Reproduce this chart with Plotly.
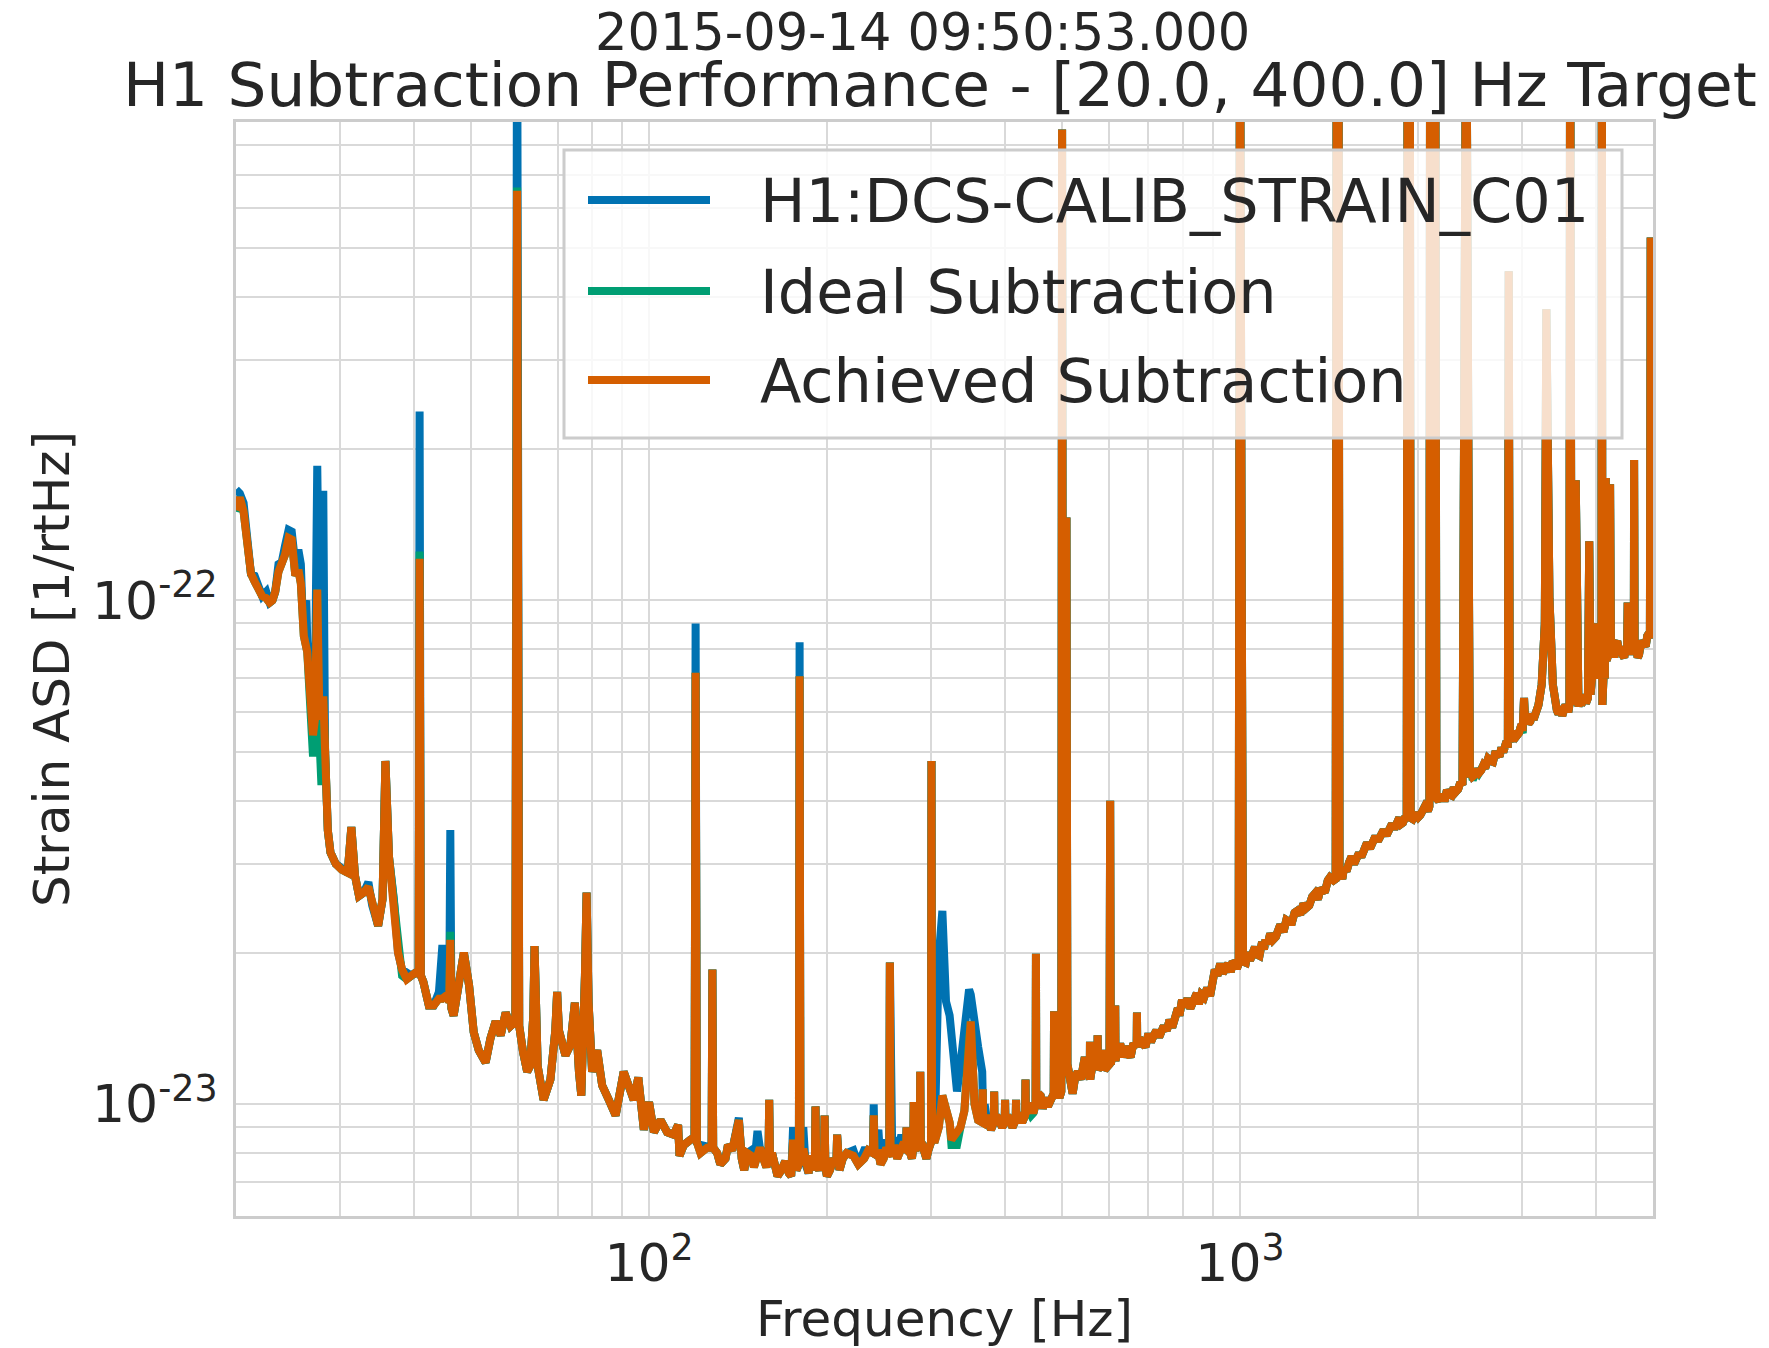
import math
import plotly.graph_objects as go

# ---------------- data (ASD values in units of 1e-23 1/rtHz) ----------------
FREQ_HZ = [
    20.0, 20.3, 20.6, 20.9, 21.2, 21.5, 21.8, 22.15, 22.5, 22.8, 23.05, 23.3, 23.6, 23.9, 24.2,
    24.55, 24.85, 25.2, 25.5, 25.75, 25.9, 26.05, 26.4, 26.8, 27.0, 27.2, 27.45, 27.65, 27.9, 28.1,
    28.3, 28.6, 28.9, 29.5, 30.2, 30.9, 31.35, 31.8, 32.3, 32.9, 33.5, 34.0, 34.8, 35.4, 35.8,
    36.3, 37.0, 37.6, 38.2, 38.9, 39.6, 40.4, 40.75, 40.9, 41.1, 41.5, 42.4, 43.2, 44.1, 44.7,
    45.3, 45.9, 46.1, 46.3, 46.7, 47.5, 48.6, 49.6, 50.5, 51.5, 52.9, 53.9, 55.0, 56.1, 57.2,
    58.3, 59.4, 59.8, 60.3, 61.2, 62.2, 62.9, 63.7, 64.0, 64.4, 64.8, 66.3, 68.1, 69.4, 69.9,
    70.4, 70.8, 72.2, 73.6, 74.9, 76.1, 76.8, 77.9, 78.4, 79.0, 80.1, 81.7, 83.3, 85.5, 87.8,
    90.6, 92.4, 94.2, 95.9, 98.0, 100.0, 101.9, 104.6, 107.3, 110.1, 112.0, 112.6, 114.5, 117.5, 119.4,
    119.9, 120.5, 122.2, 125.4, 127.6, 128.0, 128.4, 130.4, 134.7, 138.3, 141.9, 144.9, 148.9, 152.6, 156.1,
    159.3, 159.7, 160.2, 163.2, 167.5, 172.4, 175.3, 177.6, 179.3, 179.8, 180.4, 182.4, 186.2, 190.8, 191.3,
    191.9, 194.0, 197.7, 198.2, 198.8, 202.4, 207.5, 208.1, 208.8, 212.7, 221.7, 231.2, 239.3, 240.0, 240.8,
    244.4, 249.5, 255.0, 255.6, 256.3, 260.1, 267.3, 272.3, 272.8, 273.4, 276.7, 280.0, 280.5, 281.1, 284.5,
    287.2, 287.7, 288.3, 292.6, 296.9, 300.0, 300.6, 301.3, 305.0, 309.3, 313.6, 318.1, 322.6, 324.9, 332.0,
    336.5, 341.7, 348.0, 350.3, 355.5, 360.5, 366.3, 367.0, 367.8, 369.8, 376.0, 383.2, 383.7, 384.3, 392.2,
    399.8, 400.4, 401.0, 408.1, 417.3, 417.9, 418.5, 424.1, 433.0, 433.6, 434.2, 443.4, 451.0, 451.6, 452.2,
    459.9, 473.1, 484.0, 484.6, 485.2, 492.6, 498.5, 500.0, 502.0, 505.5, 508.6, 510.5, 517.4, 531.6, 546.3,
    557.0, 557.4, 557.9, 574.0, 574.3, 574.8, 590.2, 601.5, 603.0, 604.5, 614.3, 615.0, 615.7, 627.0, 646.6,
    668.7, 669.4, 670.1, 684.4, 714.7, 743.0, 776.3, 797.8, 833.5, 869.5, 906.8, 945.0, 981.0, 995.0, 1000.0,
    1006.0, 1012.0, 1023.0, 1050.0, 1079.0, 1105.0, 1137.0, 1170.0, 1212.0, 1250.0, 1294.0, 1340.0, 1381.0, 1420.0, 1452.0,
    1458.0, 1468.0, 1474.0, 1490.0, 1530.0, 1575.0, 1620.0, 1677.0, 1730.0, 1789.0, 1840.0, 1887.0, 1915.0, 1922.0, 1938.0,
    1945.0, 2003.0, 2040.0, 2070.0, 2092.0, 2098.0, 2118.0, 2140.0, 2150.0, 2200.0, 2260.0, 2319.0, 2380.0, 2400.0, 2415.0,
    2440.0, 2450.0, 2477.0, 2560.0, 2656.0, 2730.0, 2808.0, 2840.0, 2850.0, 2862.0, 2943.0, 3010.0, 3025.0, 3040.0, 3100.0,
    3155.0, 3200.0, 3240.0, 3280.0, 3300.0, 3315.0, 3340.0, 3385.0, 3438.0, 3530.0, 3580.0, 3610.0, 3620.0, 3640.0, 3700.0,
    3720.0, 3800.0, 3880.0, 3900.0, 3920.0, 3955.0, 3970.0, 3985.0, 4090.0, 4096.0, 4105.0, 4160.0, 4175.0, 4230.0, 4245.0,
    4320.0, 4440.0, 4520.0, 4530.0, 4545.0, 4640.0, 4645.0, 4655.0, 4735.0, 4825.0, 4920.0, 4955.0, 4970.0, 5000.0,
]

ACHIEVED_E23 = [
    15.1, 16.0, 15.0, 12.8, 11.3, 10.9, 10.6, 10.2, 10.1, 9.9, 10.0, 10.4, 11.4, 11.9, 12.3,
    13.3, 13.2, 11.2, 11.5, 10.8, 9.7, 8.5, 7.9, 6.3, 5.4, 5.8, 10.5, 6.3, 5.8, 6.45,
    4.6, 3.5, 3.16, 3.0, 2.92, 2.88, 3.55, 2.84, 2.59, 2.63, 2.70, 2.48, 2.26, 2.55, 4.8,
    3.1, 2.55, 2.0, 1.85, 1.77, 1.80, 1.83, 1.8, 12.1, 1.8, 1.75, 1.57, 1.57, 1.62, 1.62,
    1.64, 1.6, 2.12, 1.55, 1.50, 1.69, 2.0, 1.72, 1.39, 1.28, 1.21, 1.35, 1.46, 1.37, 1.52,
    1.43, 1.46, 65.0, 1.43, 1.27, 1.16, 1.19, 1.5, 2.06, 1.4, 1.19, 1.02, 1.12, 1.4, 1.67,
    1.4, 1.35, 1.25, 1.31, 1.59, 1.16, 1.04, 1.8, 2.63, 1.6, 1.16, 1.28, 1.09, 1.02, 0.95,
    1.16, 1.09, 1.02, 1.13, 0.89, 1.01, 0.88, 0.93, 0.88, 0.87, 0.91, 0.79, 0.83, 0.85, 0.86,
    7.18, 0.84, 0.80, 0.82, 0.82, 1.85, 0.82, 0.80, 0.78, 0.81, 0.93, 0.74, 0.79, 0.79, 0.78,
    0.78, 1.02, 0.78, 0.77, 0.74, 0.73, 0.85, 0.74, 0.76, 7.07, 0.78, 0.815, 0.73, 0.74, 0.99,
    0.76, 0.74, 0.75, 0.95, 0.75, 0.74, 0.76, 0.87, 0.76, 0.78, 0.79, 0.78, 0.80, 0.95, 0.80,
    0.80, 0.78, 0.80, 1.91, 0.80, 0.83, 0.815, 0.82, 0.90, 0.81, 0.80, 0.82, 1.01, 0.82, 0.85,
    0.84, 1.16, 0.83, 0.79, 0.81, 0.84, 4.8, 0.85, 0.85, 0.90, 1.04, 0.99, 0.92, 0.85, 0.88,
    0.90, 0.97, 1.35, 1.46, 1.00, 0.93, 0.92, 1.07, 0.92, 0.91, 0.92, 0.92, 1.06, 0.92, 0.91,
    0.92, 1.02, 0.92, 0.92, 0.93, 1.02, 0.93, 0.93, 0.95, 1.12, 0.96, 0.99, 1.0, 1.99, 1.0,
    1.04, 0.99, 1.05, 1.53, 1.05, 1.06, 1.06, 86.0, 1.5, 1.2, 14.6, 1.2, 1.07, 1.16, 1.24,
    1.12, 1.33, 1.12, 1.17, 1.37, 1.17, 1.17, 1.2, 4.0, 1.2, 1.22, 1.57, 1.22, 1.32, 1.27,
    1.3, 1.52, 1.3, 1.31, 1.37, 1.43, 1.49, 1.61, 1.59, 1.63, 1.85, 1.87, 1.9, 1.9, 200.0,
    15.4, 1.92, 1.91, 2.02, 1.97, 2.12, 2.12, 2.27, 2.3, 2.42, 2.45, 2.62, 2.65, 2.82, 2.8,
    200.0, 200.0, 2.9, 2.8, 3.02, 3.05, 3.22, 3.28, 3.45, 3.52, 3.65, 3.62, 3.65, 200.0, 200.0,
    3.7, 3.71, 3.82, 3.86, 3.9, 200.0, 200.0, 200.0, 4.05, 4.05, 4.12, 4.17, 4.3, 200.0, 200.0,
    11.4, 4.45, 4.47, 4.6, 4.8, 4.95, 5.15, 5.1, 45.0, 5.4, 5.39, 5.6, 6.4, 5.7, 5.75,
    5.9, 6.2, 6.8, 9.0, 37.8, 12.0, 10.1, 6.8, 6.05, 6.0, 6.1, 6.2, 200.0, 6.5, 17.3,
    6.3, 6.3, 6.4, 13.1, 6.5, 7.3, 9.0, 7.2, 7.0, 200.0, 6.2, 17.5, 7.6, 17.0, 7.8,
    8.2, 7.8, 8.0, 9.9, 8.0, 8.0, 19.0, 7.9, 7.8, 8.2, 8.6, 52.5, 8.7, 8.7,
]

# extra baseline wiggle points of the achieved curve (the jittery band above 130 Hz)
BAND_HZ = [
    132, 136, 143.5, 146.5, 150.5, 154, 158, 161.5, 165, 170, 174, 184, 188, 195.5, 200,
    205, 210, 216, 226, 235, 246.5, 252, 258, 263, 270, 278.5, 283, 290, 294.7, 298.5,
    372, 379, 387, 396, 404, 412, 421, 428, 438, 447, 456, 464, 468, 478, 489, 495,
    514, 521, 526, 538, 542, 552, 563, 568, 581, 585, 595, 608, 620, 633, 640, 653, 660, 676,
    692, 700, 707, 722, 730, 752, 760, 768, 785, 790, 806, 815, 824, 845, 852, 860, 880, 890,
    898, 916, 926, 935, 955, 965, 972, 988,
    1030, 1040, 1060, 1070, 1090, 1098, 1115, 1125, 1150, 1160, 1185, 1198, 1225, 1237, 1265,
    1280, 1310, 1325, 1355, 1368, 1395, 1408, 1440, 1500, 1515, 1545, 1560, 1590, 1605, 1640,
    1660, 1695, 1712, 1750, 1770, 1808, 1825, 1860, 1875, 1905, 1960, 1980, 2020, 2055, 2080,
    2170, 2185, 2225, 2240, 2280, 2300, 2340, 2360, 2462, 2495, 2520, 2540, 2580, 2600, 2630,
    2680, 2700, 2750, 2770, 2790, 2825, 2880, 2900, 2920, 2965, 2985, 3060, 3080, 3120, 3140,
    3175, 3410, 3460, 3490, 3510, 3555, 3595, 3660, 3740, 3760, 3780, 3830, 3850, 3940, 4010,
    4030, 4060, 4130, 4145, 4200, 4280, 4300, 4350, 4380, 4410, 4470, 4495, 4580, 4600, 4620,
    4690, 4710, 4760, 4790, 4860, 4890, 4940,
]
BAND_E23 = [
    0.76, 0.83, 0.78, 0.80, 0.75, 0.82, 0.75, 0.80, 0.72, 0.77, 0.72, 0.76, 0.79, 0.77, 0.72,
    0.78, 0.74, 0.80, 0.76, 0.81, 0.76, 0.82, 0.79, 0.78, 0.84, 0.78, 0.82, 0.83, 0.78, 0.83,
    0.95, 0.89, 0.95, 0.90, 0.95, 0.90, 0.96, 0.92, 0.98, 0.96, 1.05, 0.98, 1.03, 1.02, 1.08, 1.03,
    1.12, 1.05, 1.13, 1.12, 1.20, 1.18, 1.20, 1.26, 1.20, 1.28, 1.18, 1.25, 1.28, 1.24, 1.30, 1.24, 1.32, 1.35,
    1.30, 1.38, 1.33, 1.40, 1.36, 1.40, 1.47, 1.42, 1.55, 1.50, 1.56, 1.62, 1.55, 1.66, 1.58, 1.65, 1.70, 1.64,
    1.80, 1.80, 1.90, 1.82, 1.90, 1.83, 1.92, 1.86,
    2.00, 1.93, 2.05, 1.98, 2.10, 2.03, 2.08, 2.18, 2.15, 2.25, 2.20, 2.32, 2.30, 2.40, 2.38,
    2.50, 2.48, 2.58, 2.55, 2.68, 2.66, 2.78, 2.78, 2.95, 2.90, 3.10, 3.00, 3.15, 3.10, 3.30,
    3.22, 3.40, 3.33, 3.50, 3.42, 3.60, 3.52, 3.70, 3.60, 3.72, 3.68, 3.78, 3.75, 3.90, 3.82,
    4.00, 4.12, 4.05, 4.20, 4.10, 4.25, 4.22, 4.35, 4.55, 4.50, 4.62, 4.55, 4.70, 4.65, 4.85,
    4.78, 4.95, 4.90, 5.10, 5.00, 5.25, 5.35, 5.25, 5.50, 5.45, 5.60, 5.85, 5.70, 5.95, 5.80,
    6.00, 6.30, 5.95, 6.15, 5.90, 6.20, 6.00, 6.20, 6.15, 6.45, 6.20, 6.50, 6.25, 6.90, 7.30,
    7.00, 7.40, 7.40, 7.00, 7.80, 8.00, 7.70, 8.30, 7.90, 8.10, 7.70, 8.10, 8.20, 7.80, 8.30,
    8.00, 7.70, 8.10, 8.30, 8.10, 8.50, 8.40,
]

# points where the original strain (blue) departs from the achieved curve
ORIGINAL_HZ = [20.0, 20.3, 20.6, 21.5, 22.5, 23.6, 24.2, 24.55, 24.85, 25.2, 25.5, 25.75, 26.05, 26.3, 26.4,
               27.2, 27.3, 27.45, 27.55, 27.65, 27.9, 28.0, 28.1, 28.2, 28.3, 33.5, 38.9, 40.9, 44.1, 44.7,
               45.3, 46.1, 59.8, 119.9, 122.2, 141.9, 148.9, 152.6, 156.1, 175.3, 179.8, 182.4, 221.7, 231.2, 240.0,
               244.4, 249.5, 260.1, 267.3, 305.0, 309.3, 313.6, 318.1, 322.6, 324.9, 332.0, 336.5, 341.7, 348.0, 350.3,
               355.5, 360.5, 366.3, 369.8]
ORIGINAL_E23 = [16.6, 16.3, 15.6, 11.2, 10.4, 11.8, 12.8, 13.8, 13.7, 11.8, 12.6, 11.8, 9.5, 10.0, 8.3,
                6.5, 9.0, 18.5, 13.0, 8.5, 8.0, 12.0, 16.5, 9.0, 5.0, 2.76, 1.82, 23.7, 1.67, 2.07,
                1.66, 3.5, 200.0, 9.0, 0.83, 0.94, 0.81, 0.885, 0.80, 0.90, 8.26, 0.90, 0.81, 0.81, 1.0,
                0.89, 0.85, 0.86, 0.87, 0.95, 1.97, 2.42, 1.6, 1.5, 1.35, 1.06, 1.2, 1.46, 1.69, 1.65,
                1.43, 1.3, 1.16, 1.0]

# points where the ideal subtraction (green) departs from the achieved curve
IDEAL_HZ = [20.0, 26.8, 27.0, 27.65, 27.9, 28.3, 38.2, 40.9, 46.1, 59.8, 324.9, 332.0, 443.4, 2477.0, 3010.0]
IDEAL_E23 = [15.0, 6.0, 4.9, 5.5, 4.3, 4.2, 1.8, 12.5, 2.2, 66.0, 0.83, 0.83, 0.95, 4.4, 5.45]

SERIES_NAMES = ["H1:DCS-CALIB_STRAIN_C01", "Ideal Subtraction", "Achieved Subtraction"]
SERIES_COLORS = ["#0072B2", "#009E73", "#D55E00"]

TITLE_EPOCH = "2015-09-14 09:50:53.000"
TITLE_MAIN = "H1 Subtraction Performance - [20.0, 400.0] Hz Target"
X_TICK_VALUES = [100, 1000]
X_TICK_TEXT = ["10<sup>2</sup>", "10<sup>3</sup>"]
Y_TICK_VALUES = [1e-23, 1e-22]
Y_TICK_TEXT = ["10<sup>-23</sup>", "10<sup>-22</sup>"]
X_MINOR = [20, 30, 40, 50, 60, 70, 80, 90, 200, 300, 400, 500, 600, 700, 800, 900, 2000, 3000, 4000]
Y_MINOR = [6e-24, 7e-24, 8e-24, 9e-24, 2e-23, 3e-23, 4e-23, 5e-23, 6e-23, 7e-23, 8e-23, 9e-23,
           2e-22, 3e-22, 4e-22, 5e-22, 6e-22, 7e-22, 8e-22]
X_RANGE_HZ = [20.0, 5000.0]
Y_RANGE = [6e-24, 8.9e-22]


def merged(base_f, base_v, *overrides):
    table = dict(zip(base_f, base_v))
    for over_f, over_v in overrides:
        table.update(zip(over_f, over_v))
    fs = sorted(table)
    return fs, [table[f] * 1e-23 for f in fs]


ach_f, ach_v = merged(FREQ_HZ, ACHIEVED_E23, (BAND_HZ, BAND_E23))
orig_f, orig_v = merged(FREQ_HZ, ACHIEVED_E23, (BAND_HZ, BAND_E23), (ORIGINAL_HZ, ORIGINAL_E23))
ideal_f, ideal_v = merged(FREQ_HZ, ACHIEVED_E23, (BAND_HZ, BAND_E23), (IDEAL_HZ, IDEAL_E23))

W, H = 1769, 1348
L, R, T, B = 236, 1653, 122, 1216  # plot area in pixels


def px(x):
    return (x - L) / (R - L)


def py(y):
    return (B - y) / (B - T)


FONT = "DejaVu Sans"
TXT = "#262626"
LW = 8

fig = go.Figure()
for (fx, vy), name, col in zip([(orig_f, orig_v), (ideal_f, ideal_v), (ach_f, ach_v)], SERIES_NAMES, SERIES_COLORS):
    fig.add_trace(go.Scatter(x=fx, y=vy, mode="lines", name=name,
                             line=dict(color=col, width=LW), showlegend=False))

grid = "#d9d9d9"
fig.update_xaxes(type="log", range=[math.log10(X_RANGE_HZ[0]), math.log10(X_RANGE_HZ[1])],
                 tickmode="array", tickvals=X_TICK_VALUES, ticktext=X_TICK_TEXT,
                 showgrid=True, gridcolor=grid, gridwidth=2,
                 minor=dict(tickmode="array", tickvals=X_MINOR, showgrid=True, gridcolor=grid, gridwidth=2, ticks=""),
                 showline=True, mirror=True, linecolor="#cccccc", linewidth=3, ticks="",
                 tickfont=dict(family=FONT, size=52, color=TXT), ticklabelstandoff=0,
                 title=dict(text="Frequency [Hz]", font=dict(family=FONT, size=50, color=TXT), standoff=14),
                 zeroline=False, automargin=False)
fig.update_yaxes(type="log", range=[math.log10(Y_RANGE[0]), math.log10(Y_RANGE[1])],
                 tickmode="array", tickvals=Y_TICK_VALUES, ticktext=Y_TICK_TEXT,
                 showgrid=True, gridcolor=grid, gridwidth=2,
                 minor=dict(tickmode="array", tickvals=Y_MINOR, showgrid=True, gridcolor=grid, gridwidth=2, ticks=""),
                 showline=True, mirror=True, linecolor="#cccccc", linewidth=3, ticks="",
                 tickfont=dict(family=FONT, size=52, color=TXT), ticklabelstandoff=5,
                 title=dict(text="Strain ASD [1/rtHz]", font=dict(family=FONT, size=50, color=TXT), standoff=7),
                 zeroline=False, automargin=False)

shapes = []
annotations = []
# legend box
shapes.append(dict(type="rect", xref="paper", yref="paper", x0=px(564), x1=px(1622), y0=py(438), y1=py(150),
                   fillcolor="rgba(255,255,255,0.8)", line=dict(color="#cccccc", width=3), layer="above"))
for i, (name, col) in enumerate(zip(SERIES_NAMES, SERIES_COLORS)):
    yrow = [200, 291, 380][i]
    shapes.append(dict(type="line", xref="paper", yref="paper", x0=px(588), x1=px(710), y0=py(yrow), y1=py(yrow),
                       line=dict(color=col, width=LW), layer="above"))
    annotations.append(dict(text=name, xref="paper", yref="paper", x=px(758), y=py(yrow + 1), xanchor="left",
                            yanchor="middle", showarrow=False, font=dict(family=FONT, size=60.5, color=TXT)))

annotations.append(dict(text=TITLE_EPOCH, xref="paper", yref="paper", x=px(922), y=py(32.5), xanchor="center",
                        yanchor="middle", showarrow=False, font=dict(family=FONT, size=51, color=TXT)))
annotations.append(dict(text=TITLE_MAIN, xref="paper", yref="paper", x=px(940), y=py(84.5), xanchor="center",
                        yanchor="middle", showarrow=False, font=dict(family=FONT, size=61.3, color=TXT)))

fig.update_layout(width=W, height=H, margin=dict(l=L, r=W - R, t=T, b=H - B, pad=0),
                  paper_bgcolor="white", plot_bgcolor="white",
                  shapes=shapes, annotations=annotations, showlegend=False,
                  font=dict(family=FONT, color=TXT))

fig.write_html("out.html", config={"displayModeBar": False},
               post_script="document.body.style.margin='0';document.body.style.padding='0';")
